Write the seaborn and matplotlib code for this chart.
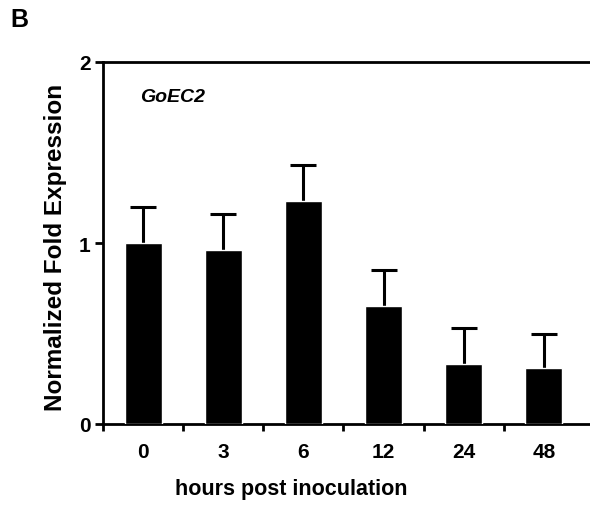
import matplotlib
matplotlib.use('Agg')
import matplotlib.pyplot as plt
import numpy as np
import pandas as pd
import seaborn as sns

hours = ['0', '3', '6', '12', '24', '48']
fold_expr = [1.00, 0.96, 1.23, 0.65, 0.33, 0.31]
fold_err = [0.20, 0.20, 0.20, 0.20, 0.20, 0.19]
gene = 'GoEC2'

sns.set_style("ticks")
plt.rcParams['font.family'] = ['Liberation Sans', 'DejaVu Sans']
plt.rcParams['font.weight'] = 'bold'
plt.rcParams['text.color'] = 'black'
plt.rcParams['xtick.color'] = 'black'
plt.rcParams['ytick.color'] = 'black'
plt.rcParams['axes.labelcolor'] = 'black'

df = pd.DataFrame({'hours': hours, 'expr': fold_expr})

fig = plt.figure(figsize=(5.9, 5.06), dpi=100)
ax = fig.add_axes([103 / 590, 81 / 506, 489 / 590, 362 / 506])

sns.barplot(data=df, x='hours', y='expr', color='black', saturation=1,
            width=0.46, ax=ax, errorbar=None, zorder=3)
# symmetric bars drawn behind the columns, so only the upper half shows
ax.errorbar(np.arange(len(hours)), fold_expr, yerr=fold_err,
            fmt='none', ecolor='black', elinewidth=2.2, capsize=9.5,
            capthick=2.2, zorder=1)

ax.set_xlim(-0.5, 5.6)
ax.set_ylim(0, 2)
ax.set_yticks([0, 1, 2])
ax.set_yticklabels(['0', '1', '2'], fontsize=15, fontweight='bold')
ax.set_xticks(range(len(hours)))
ax.set_xticklabels(hours, fontsize=15, fontweight='bold')
ax.tick_params(axis='x', which='major', length=0, pad=13)
ax.set_xticks(np.arange(-0.5, 5.0, 1.0), minor=True)
ax.tick_params(axis='x', which='minor', length=5, width=2, direction='out')
ax.tick_params(axis='y', length=6, width=2, direction='out', pad=3)

for side in ['left', 'bottom', 'top']:
    ax.spines[side].set_linewidth(2)
    ax.spines[side].set_color('black')
ax.spines['right'].set_visible(False)

ax.set_ylabel('Normalized Fold Expression', fontsize=17.5, fontweight='bold')
ax.yaxis.set_label_coords(-0.074, 0.49)
ax.set_xlabel('hours post inoculation', fontsize=15.5, fontweight='bold')
ax.xaxis.set_label_coords(0.384, -0.15)

ax.text(0.076, 0.905, gene, transform=ax.transAxes, fontsize=14,
        fontweight='bold', style='italic', va='center', ha='left')
fig.text(10 / 590, 1 - 20 / 506, 'B', fontsize=18, fontweight='bold',
         va='center', ha='left')

fig.savefig('out.png', dpi=100)
